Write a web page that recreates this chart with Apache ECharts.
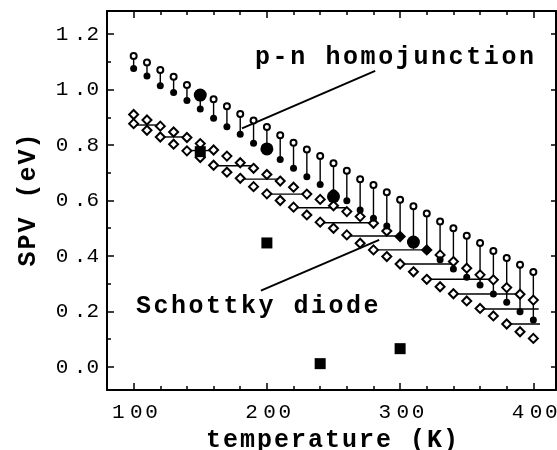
<!DOCTYPE html>
<html lang="en">
<head>
<meta charset="UTF-8">
<title>SPV vs temperature</title>
<script src="https://cdn.jsdelivr.net/npm/echarts@6/dist/echarts.min.js"></script>
<style>
    html, body { margin: 0; padding: 0; background: #fff; }
    #chart { width: 557px; height: 450px; }
</style>
</head>
<body>
<div id="chart"></div>
<script>
// temperatures (K) of the p-n / Schottky points
var temps = [100,110,120,130,140,150,160,170,180,190,200,210,220,230,240,250,
             260,270,280,290,300,310,320,330,340,350,360,370,380,390,400];
// p-n homojunction: upper and lower end of each vertical bar (eV)
var pnTop = [1.121,1.097,1.070,1.046,1.016,0.985,0.965,0.940,0.912,0.888,0.865,0.835,0.808,0.784,0.760,0.734,
             0.707,0.677,0.656,0.630,0.603,0.579,0.553,0.524,0.500,0.473,0.447,0.418,0.393,0.368,0.342];
var pnBottom = [1.076,1.049,1.014,0.989,0.960,0.930,0.896,0.866,0.839,0.806,0.777,0.748,0.716,0.686,0.658,0.628,
                0.599,0.566,0.536,0.508,0.471,0.446,0.422,0.386,0.353,0.323,0.295,0.263,0.233,0.199,0.169];
// Schottky diode: two rows of open diamonds
var diamondUpper = [0.910,0.890,0.868,0.847,0.827,0.805,0.782,0.760,0.736,0.716,0.694,0.670,0.648,0.623,0.604,0.581,
                    0.560,0.542,0.518,0.490,0.470,0.446,0.422,0.404,0.380,0.356,0.332,0.314,0.286,0.262,0.241];
var diamondLower = [0.877,0.853,0.829,0.803,0.779,0.755,0.727,0.702,0.680,0.650,0.624,0.600,0.576,0.548,0.522,0.500,
                    0.476,0.446,0.422,0.398,0.371,0.343,0.316,0.289,0.264,0.238,0.211,0.184,0.155,0.127,0.103];
// horizontal shift bars: [T from, T to, SPV]
var shiftBars = [[100,120,0.872],[120,140,0.829],[140,160,0.780],[160,190,0.725],[180,210,0.677],
                 [200,230,0.623],[220,260,0.574],[240,280,0.520],[260,300,0.472],[280,320,0.422],
                 [300,340,0.371],[320,370,0.316],[340,390,0.263],[360,404,0.209],[380,405,0.155]];
// large filled circles and squares
var bigCircles = [[150,0.980],[200,0.786],[250,0.614],[310,0.450]];
var squares = [[150,0.776],[200,0.447],[240,0.012],[300,0.066]];
// pointer lines of the two labels: [[T1, V1], [T2, V2]]
var pnPointer = [[181.3,0.860],[281.3,1.067]];
var schottkyPointer = [[195.5,0.275],[284.3,0.458]];
// ticks
var xMajor = [100,200,300,400];
var xMinor = [80,100,120,140,160,180,200,220,240,260,280,300,320,340,360,380,400];
var yMajor = [0,0.2,0.4,0.6,0.8,1.0,1.2];
var yMinor = [0,0.1,0.2,0.3,0.4,0.5,0.6,0.7,0.8,0.9,1.0,1.1,1.2];

var X_MIN = 80, X_MAX = 417, Y_MIN = -0.083, Y_MAX = 1.283;
var MONO = '"Liberation Mono", "DejaVu Sans Mono", monospace';

// monospace text with wider letter cells (rich tokens, last one unpadded)
function spaced(s, cell, last) {
    var chars = s.split('');
    return chars.map(function (ch, i) {
        return '{' + (i === chars.length - 1 ? last : cell) + '|' + ch + '}';
    }).join('');
}
function richSet(size, weight, cellW) {
    return {
        c: { fontFamily: MONO, fontSize: size, fontWeight: weight, color: '#000', width: cellW },
        e: { fontFamily: MONO, fontSize: size, fontWeight: weight, color: '#000' }
    };
}
var tickRich = richSet(21, 'normal', 18);
var titleRich = richSet(25, 'bold', 17);

function xAxisDef(position, ticks, len, main) {
    return {
        type: 'value', position: position, min: X_MIN, max: X_MAX,
        splitLine: { show: false },
        axisLine: { show: main, onZero: false, lineStyle: { color: '#000', width: 2 } },
        axisTick: { show: true, inside: true, length: len, customValues: ticks,
                    lineStyle: { color: '#000', width: 1.5 } },
        axisLabel: { show: main && position === 'bottom', customValues: xMajor, margin: 12,
                     formatter: function (v) { return spaced(String(v), 'c', 'e'); },
                     rich: tickRich },
        name: main && position === 'bottom' ? spaced('temperature (K)', 'c', 'e') : '',
        nameLocation: 'middle', nameGap: 38,
        nameTextStyle: { rich: titleRich }
    };
}
function yAxisDef(position, ticks, len, main) {
    return {
        type: 'value', position: position, min: Y_MIN, max: Y_MAX,
        splitLine: { show: false },
        axisLine: { show: main, onZero: false, lineStyle: { color: '#000', width: 2 } },
        axisTick: { show: true, inside: true, length: len, customValues: ticks,
                    lineStyle: { color: '#000', width: 1.5 } },
        axisLabel: { show: main && position === 'left', customValues: yMajor, margin: 8,
                     formatter: function (v) { return spaced(v.toFixed(1), 'c', 'e'); },
                     rich: tickRich },
        name: main && position === 'left' ? spaced('SPV (eV)', 'c', 'e') : '',
        nameLocation: 'middle', nameGap: 66,
        nameTextStyle: { rich: titleRich }
    };
}

var chart = echarts.init(document.getElementById('chart'), null, { renderer: 'canvas' });

var option = {
    backgroundColor: '#fff',
    animation: false,
    grid: { left: 107, right: 1, top: 11, bottom: 60, outerBoundsMode: 'none' },
    xAxis: [
        xAxisDef('bottom', xMajor, 7, true),
        xAxisDef('bottom', xMinor, 4, false),
        xAxisDef('top', xMajor, 7, true),
        xAxisDef('top', xMinor, 4, false)
    ],
    yAxis: [
        yAxisDef('left', yMajor, 7, true),
        yAxisDef('left', yMinor, 4, false),
        yAxisDef('right', yMajor, 5, true)
    ],
    graphic: [
        { type: 'text', x: 255, y: 58,
          style: { text: spaced('p-n homojunction', 'c', 'e'), rich: richSet(25, 'bold', 17.6), verticalAlign: 'middle' } },
        { type: 'text', x: 136, y: 307,
          style: { text: spaced('Schottky diode', 'c', 'e'), rich: richSet(25, 'bold', 17.5), verticalAlign: 'middle' } }
    ],
    series: [
        {
            // vertical bars of the p-n pairs
            type: 'custom', z: 2, silent: true,
            data: temps.map(function (t, i) { return [t, pnTop[i], pnBottom[i]]; }),
            renderItem: function (params, api) {
                var a = api.coord([api.value(0), api.value(1)]);
                var b = api.coord([api.value(0), api.value(2)]);
                return { type: 'line', shape: { x1: a[0], y1: a[1], x2: b[0], y2: b[1] },
                         style: { stroke: '#000', lineWidth: 1.4 } };
            }
        },
        {
            // horizontal shift bars
            type: 'custom', z: 2, silent: true,
            data: shiftBars,
            renderItem: function (params, api) {
                var a = api.coord([api.value(0), api.value(2)]);
                var b = api.coord([api.value(1), api.value(2)]);
                return { type: 'line', shape: { x1: a[0], y1: a[1], x2: b[0], y2: b[1] },
                         style: { stroke: '#000', lineWidth: 1.4 } };
            }
        },
        {
            type: 'lines', coordinateSystem: 'cartesian2d', z: 2, silent: true,
            lineStyle: { color: '#000', width: 2, opacity: 1 },
            data: [{ coords: pnPointer }, { coords: schottkyPointer }]
        },
        {
            type: 'scatter', name: 'Schottky upper', z: 3, symbol: 'emptyDiamond', symbolSize: [9, 9],
            itemStyle: { color: '#000', borderColor: '#000', borderWidth: 1.2, opacity: 1 },
            data: temps.map(function (t, i) { return [t, diamondUpper[i]]; })
        },
        {
            type: 'scatter', name: 'Schottky lower', z: 3, symbol: 'emptyDiamond', symbolSize: [9, 9],
            itemStyle: { color: '#000', borderColor: '#000', borderWidth: 1.2, opacity: 1 },
            data: temps.map(function (t, i) { return [t, diamondLower[i]]; })
        },
        {
            type: 'scatter', name: 'p-n top', z: 4, symbol: 'emptyCircle', symbolSize: 6,
            itemStyle: { color: '#000', borderColor: '#000', borderWidth: 2, opacity: 1 },
            data: temps.map(function (t, i) { return [t, pnTop[i]]; })
        },
        {
            type: 'scatter', name: 'p-n bottom', z: 4, symbol: 'circle', symbolSize: 7,
            itemStyle: { color: '#000', opacity: 1 },
            data: temps.map(function (t, i) { return [t, pnBottom[i]]; })
        },
        {
            type: 'scatter', name: 'big', z: 5, symbol: 'circle', symbolSize: 13,
            itemStyle: { color: '#000', opacity: 1 },
            data: bigCircles
        },
        {
            type: 'scatter', name: 'squares', z: 5, symbol: 'rect', symbolSize: 11,
            itemStyle: { color: '#000', opacity: 1 },
            data: squares
        }
    ]
};

chart.setOption(option);
</script>
</body>
</html>
